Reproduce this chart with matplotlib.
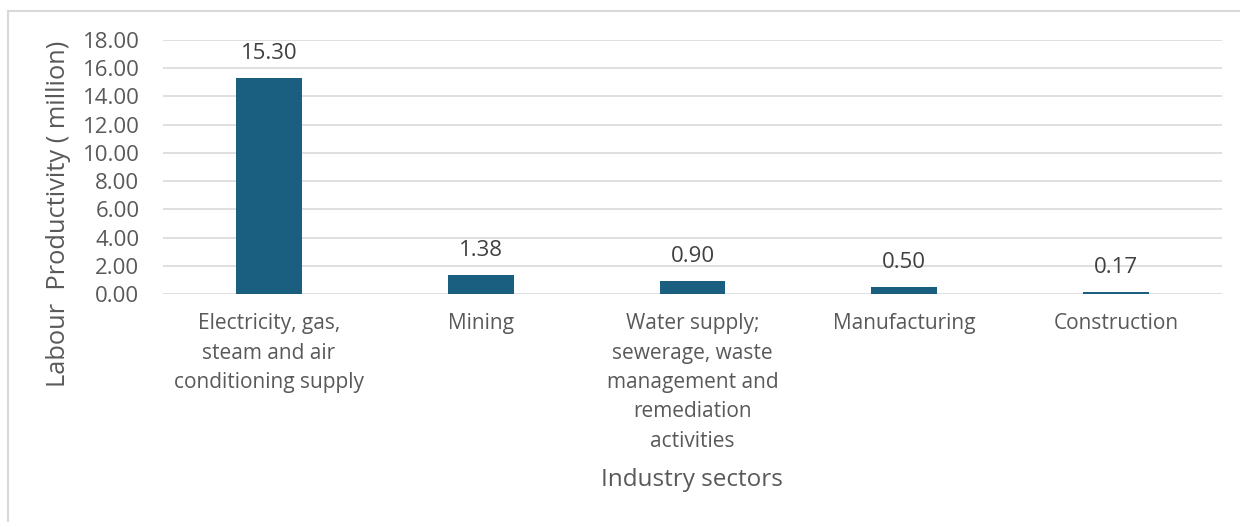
import matplotlib.pyplot as plt
from matplotlib.lines import Line2D

plt.rcParams["font.family"] = ["Open Sans", "DejaVu Sans"]

sectors = [
    "Electricity, gas,\nsteam and air\nconditioning supply",
    "Mining",
    "Water supply;\nsewerage, waste\nmanagement and\nremediation\nactivities",
    "Manufacturing",
    "Construction",
]
productivity = [15.30, 1.38, 0.90, 0.50, 0.17]
yticks = [0, 2, 4, 6, 8, 10, 12, 14, 16, 18]

text_color = "#595959"
bar_color = "#1a5f80"

fig = plt.figure(figsize=(12.4, 5.22), dpi=100)
ax = fig.add_axes([163 / 1240, 1 - 294 / 522, (1222 - 163) / 1240, (294 - 40) / 522])

x = range(len(sectors))
bars = ax.bar(x, productivity, width=0.31, color=bar_color, zorder=3)
for rect, val in zip(bars, productivity):
    ax.annotate(f"{val:.2f}", (rect.get_x() + rect.get_width() / 2, val),
                xytext=(0, 10), textcoords="offset points",
                ha="center", va="bottom", fontsize=16, color="#404040")

ax.set_xlim(-0.5, len(sectors) - 0.5)
ax.set_ylim(0, 18)
ax.set_yticks(yticks)
ax.set_yticklabels([f"{v:.2f}" for v in yticks], fontsize=16, color=text_color)
ax.set_xticks(list(x))
ax.set_xticklabels(sectors, fontsize=15, color=text_color, linespacing=1.52)
ax.tick_params(axis="both", length=0)
ax.tick_params(axis="x", pad=14)
ax.tick_params(axis="y", pad=17)
ax.grid(axis="y", color="#d9d9d9", linewidth=1.2, zorder=0)
for side in ["top", "right", "left", "bottom"]:
    ax.spines[side].set_visible(False)

fig.text(59 / 1240, 1 - 214 / 522, "Labour  Productivity ( million)", rotation=90,
         ha="center", va="center", fontsize=18.3, color=text_color)
fig.text(692 / 1240, 1 - 480 / 522, "Industry sectors",
         ha="center", va="center", fontsize=17.5, color=text_color)

# light frame on the top and left edges
fig.add_artist(Line2D([8 / 1240, 1], [1 - 11 / 522, 1 - 11 / 522], color="#d9d9d9", lw=1.5))
fig.add_artist(Line2D([8 / 1240, 8 / 1240], [0, 1 - 11 / 522], color="#d9d9d9", lw=1.5))

fig.savefig("out.png", dpi=100)
